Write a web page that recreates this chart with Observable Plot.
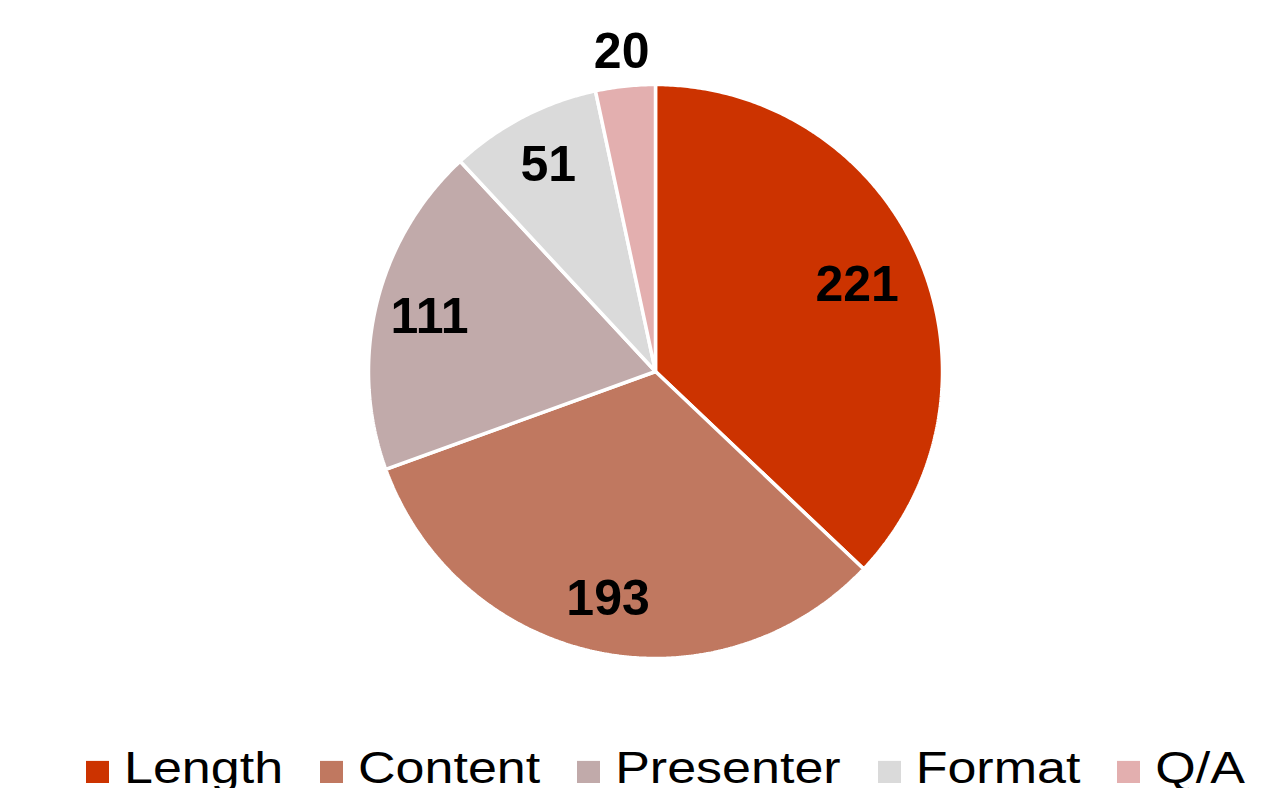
<!DOCTYPE html>
<html><head><meta charset="utf-8">
<script src="https://cdn.jsdelivr.net/npm/d3@7"></script>
<script src="https://cdn.jsdelivr.net/npm/@observablehq/plot@0.6"></script>
<style>
html,body{margin:0;padding:0;background:#fff;overflow:hidden}
#wrap{position:relative;width:1286px;height:788px;overflow:hidden;font-family:Arial,"Liberation Sans",sans-serif}
#chart svg{display:block}
#legend{position:absolute;left:86px;top:739px;height:52px;line-height:52px;font-size:52px;white-space:nowrap;color:#000;transform:scaleY(0.85);transform-origin:0 44px}
#legend .sw{display:inline-block;width:23px;height:26px;margin-right:15px}
#legend .it{margin-right:37px}
</style>
</head><body>
<div id="wrap"><div id="chart"></div><div id="legend"></div></div>
<script>
const categories = ["Length", "Content", "Presenter", "Format", "Q/A"];
const values = [221, 193, 111, 51, 20];
const colors = ["#CC3300", "#C07860", "#C1AAAA", "#DADADA", "#E3AFAF"];

const W = 1286, H = 700, R = 287, CX = 655, CY = 371;
const total = d3.sum(values);
const arcs = d3.pie().sort(null).value(d => d)(values);

// polygon points for each slice (angles clockwise from 12 o'clock)
const pts = [];
arcs.forEach((a, i) => {
  const cat = categories[i];
  pts.push({cat, x: 0, y: 0});
  const n = Math.max(4, Math.ceil((a.endAngle - a.startAngle) / (Math.PI / 360)));
  for (let k = 0; k <= n; k++) {
    const t = a.startAngle + (a.endAngle - a.startAngle) * k / n;
    pts.push({cat, x: Math.sin(t), y: Math.cos(t)});
  }
});

const labels = arcs.map((a, i) => {
  const m = (a.startAngle + a.endAngle) / 2;
  const share = values[i] / total;
  const r = share < 0.05 ? 1.12 : (share > 0.35 ? 0.765 : 0.81);
  return {label: String(values[i]), x: r * Math.sin(m), y: r * Math.cos(m)};
});

const chart = Plot.plot({
  width: W, height: H,
  margin: 0,
  x: {domain: [-CX / R, (W - CX) / R], axis: null},
  y: {domain: [(CY - H) / R, CY / R], axis: null},
  color: {domain: categories, range: colors},
  style: {fontFamily: 'Arial, "Liberation Sans", sans-serif', background: "#fff"},
  marks: [
    Plot.line(pts, {x: "x", y: "y", z: "cat", fill: "cat", stroke: "#fff", strokeWidth: 3.5, curve: "linear-closed", strokeLinejoin: "miter"}),
    Plot.text(labels, {x: "x", y: "y", text: "label", fontSize: 50, fontWeight: "bold", fill: "#000"})
  ]
});
document.getElementById("chart").appendChild(chart);

const lg = document.getElementById("legend");
categories.forEach((c, i) => {
  const it = document.createElement("span");
  it.className = "it";
  const sw = document.createElement("span");
  sw.className = "sw";
  sw.style.background = colors[i];
  it.appendChild(sw);
  it.appendChild(document.createTextNode(c));
  lg.appendChild(it);
});
</script>
</body></html>
